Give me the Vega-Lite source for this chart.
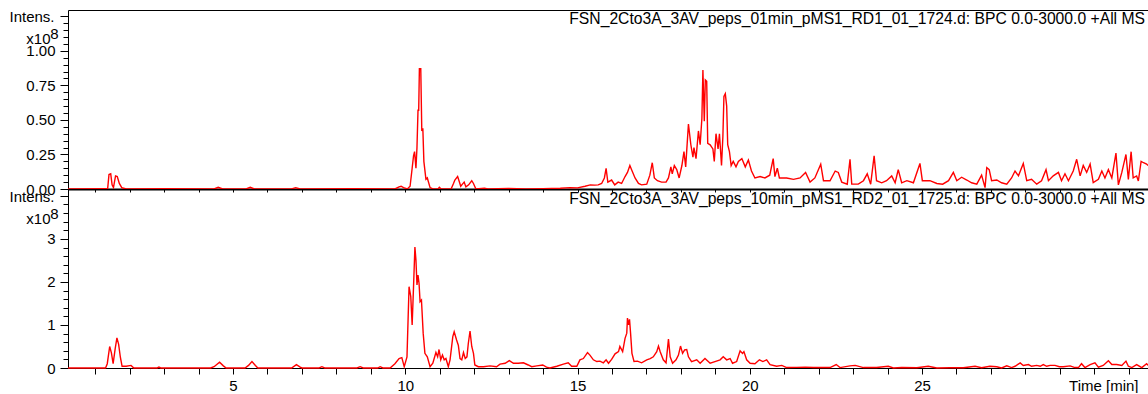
{
  "$schema": "https://vega.github.io/schema/vega-lite/v6.json",
  "autosize": {"type": "pad"},
  "padding": {"left": 9, "top": 9, "right": 0, "bottom": 0},
  "bounds": "flush",
  "spacing": 0,
  "background": "white",
  "config": {
    "view": {"stroke": null},
    "font": "Liberation Sans",
    "axis": {
      "labelFont": "Liberation Sans", "titleFont": "Liberation Sans",
      "labelColor": "black", "titleColor": "black",
      "tickColor": "black", "domainColor": "black",
      "grid": false, "labelFontSize": 15, "titleFontSize": 15,
      "titleFontWeight": "normal", "labelFlush": false, "labelOverlap": false
    },
    "title": {"font": "Liberation Sans", "fontSize": 15.7, "fontWeight": "normal", "color": "black"}
  },
  "datasets": {
    "run01": [
      {"t":0.21,"i":0},{"t":1.30,"i":0.002},{"t":1.36,"i":0},{"t":1.40,"i":0.105},{"t":1.45,"i":0.11},{"t":1.49,"i":0.03},{"t":1.53,"i":0.01},{"t":1.59,"i":0.095},{"t":1.64,"i":0.09},{"t":1.70,"i":0.04},{"t":1.77,"i":0.01},{"t":1.90,"i":0},
      {"t":3.0,"i":0.002},{"t":4.45,"i":0},{"t":4.57,"i":0.012},{"t":4.70,"i":0},{"t":5.38,"i":0},{"t":5.50,"i":0.012},{"t":5.62,"i":0},{"t":6.70,"i":0},{"t":6.82,"i":0.01},{"t":6.95,"i":0},{"t":8.5,"i":0.002},
      {"t":9.70,"i":0},{"t":9.82,"i":0.015},{"t":9.88,"i":0.02},{"t":9.95,"i":0.01},{"t":10.06,"i":0},{"t":10.14,"i":0.02},{"t":10.20,"i":0.15},{"t":10.24,"i":0.24},{"t":10.27,"i":0.27},{"t":10.31,"i":0.15},{"t":10.34,"i":0.30},{"t":10.37,"i":0.57},{"t":10.39,"i":0.57},{"t":10.41,"i":0.87},{"t":10.45,"i":0.87},{"t":10.48,"i":0.42},{"t":10.51,"i":0.44},{"t":10.54,"i":0.20},{"t":10.60,"i":0.07},{"t":10.64,"i":0.08},{"t":10.72,"i":0.01},{"t":10.80,"i":0},
      {"t":10.95,"i":0},{"t":10.99,"i":0.012},{"t":11.04,"i":0},{"t":11.33,"i":0},{"t":11.40,"i":0.04},{"t":11.44,"i":0.065},{"t":11.52,"i":0.09},{"t":11.56,"i":0.06},{"t":11.61,"i":0.02},{"t":11.66,"i":0.035},{"t":11.71,"i":0.05},{"t":11.76,"i":0.015},{"t":11.84,"i":0.03},{"t":11.93,"i":0.06},{"t":11.98,"i":0.04},{"t":12.05,"i":0},
      {"t":12.30,"i":0.005},{"t":12.40,"i":0},{"t":13.0,"i":0.004},{"t":13.5,"i":0},{"t":14.0,"i":0.003},{"t":14.5,"i":0.005},{"t":14.78,"i":0.01},{"t":15.0,"i":0.008},{"t":15.22,"i":0.02},{"t":15.37,"i":0.03},{"t":15.5,"i":0.028},{"t":15.6,"i":0.03},{"t":15.7,"i":0.04},{"t":15.78,"i":0.08},{"t":15.83,"i":0.15},{"t":15.88,"i":0.05},{"t":15.99,"i":0.065},{"t":16.08,"i":0.03},{"t":16.18,"i":0.05},{"t":16.28,"i":0.04},{"t":16.38,"i":0.09},{"t":16.45,"i":0.12},{"t":16.52,"i":0.17},{"t":16.57,"i":0.14},{"t":16.67,"i":0.08},{"t":16.77,"i":0.04},{"t":16.86,"i":0.03},
      {"t":17.01,"i":0.035},{"t":17.10,"i":0.10},{"t":17.17,"i":0.19},{"t":17.23,"i":0.08},{"t":17.32,"i":0.06},{"t":17.44,"i":0.05},{"t":17.57,"i":0.05},{"t":17.64,"i":0.08},{"t":17.71,"i":0.16},{"t":17.75,"i":0.11},{"t":17.81,"i":0.17},{"t":17.88,"i":0.14},{"t":17.95,"i":0.08},{"t":18.03,"i":0.17},{"t":18.09,"i":0.27},{"t":18.14,"i":0.16},{"t":18.22,"i":0.47},{"t":18.29,"i":0.32},{"t":18.35,"i":0.23},{"t":18.38,"i":0.30},{"t":18.44,"i":0.22},{"t":18.51,"i":0.42},{"t":18.56,"i":0.32},{"t":18.61,"i":0.51},{"t":18.64,"i":0.86},{"t":18.68,"i":0.49},{"t":18.71,"i":0.79},{"t":18.75,"i":0.78},{"t":18.78,"i":0.33},{"t":18.85,"i":0.32},{"t":18.93,"i":0.29},{"t":18.97,"i":0.20},
      {"t":19.02,"i":0.40},{"t":19.08,"i":0.29},{"t":19.12,"i":0.40},{"t":19.18,"i":0.17},{"t":19.22,"i":0.38},{"t":19.25,"i":0.67},{"t":19.29,"i":0.69},{"t":19.33,"i":0.60},{"t":19.36,"i":0.32},{"t":19.41,"i":0.27},{"t":19.46,"i":0.17},{"t":19.52,"i":0.20},{"t":19.60,"i":0.16},{"t":19.67,"i":0.20},{"t":19.77,"i":0.22},{"t":19.87,"i":0.16},{"t":19.96,"i":0.21},{"t":20.05,"i":0.13},{"t":20.15,"i":0.08},{"t":20.30,"i":0.09},{"t":20.44,"i":0.08},{"t":20.58,"i":0.10},{"t":20.68,"i":0.22},{"t":20.73,"i":0.09},{"t":20.80,"i":0.15},{"t":20.86,"i":0.08},
      {"t":21.07,"i":0.08},{"t":21.27,"i":0.07},{"t":21.46,"i":0.08},{"t":21.62,"i":0.12},{"t":21.75,"i":0.05},{"t":21.89,"i":0.08},{"t":22.06,"i":0.18},{"t":22.14,"i":0.06},{"t":22.33,"i":0.06},{"t":22.48,"i":0.13},{"t":22.57,"i":0.12},{"t":22.67,"i":0.05},{"t":22.83,"i":0.035},{"t":22.91,"i":0.215},{"t":22.96,"i":0.035},
      {"t":23.15,"i":0.035},{"t":23.30,"i":0.06},{"t":23.41,"i":0.11},{"t":23.51,"i":0.035},{"t":23.61,"i":0.24},{"t":23.68,"i":0.06},{"t":23.83,"i":0.045},{"t":23.97,"i":0.06},{"t":24.12,"i":0.095},{"t":24.22,"i":0.045},{"t":24.31,"i":0.14},{"t":24.41,"i":0.045},{"t":24.56,"i":0.06},{"t":24.75,"i":0.045},{"t":24.94,"i":0.185},{"t":25.01,"i":0.06},{"t":25.23,"i":0.06},{"t":25.43,"i":0.04},{"t":25.60,"i":0.035},{"t":25.77,"i":0.06},{"t":25.91,"i":0.12},{"t":26.01,"i":0.06},{"t":26.15,"i":0.085},{"t":26.30,"i":0.065},{"t":26.44,"i":0.045},{"t":26.59,"i":0.035},{"t":26.73,"i":0.10},{"t":26.83,"i":0.01},{"t":26.88,"i":0.155},{"t":26.95,"i":0.14},
      {"t":27.02,"i":0.06},{"t":27.17,"i":0.065},{"t":27.31,"i":0.045},{"t":27.46,"i":0.035},{"t":27.60,"i":0.08},{"t":27.70,"i":0.13},{"t":27.80,"i":0.095},{"t":27.94,"i":0.185},{"t":28.04,"i":0.06},{"t":28.18,"i":0.07},{"t":28.33,"i":0.035},{"t":28.47,"i":0.06},{"t":28.60,"i":0.14},{"t":28.67,"i":0.06},{"t":28.81,"i":0.095},{"t":28.96,"i":0.12},{"t":29.05,"i":0.06},{"t":29.15,"i":0.11},{"t":29.25,"i":0.06},{"t":29.39,"i":0.13},{"t":29.49,"i":0.215},{"t":29.59,"i":0.095},{"t":29.68,"i":0.17},{"t":29.78,"i":0.12},{"t":29.88,"i":0.18},{"t":29.97,"i":0.046},
      {"t":30.12,"i":0.07},{"t":30.22,"i":0.13},{"t":30.31,"i":0.08},{"t":30.41,"i":0.14},{"t":30.51,"i":0.08},{"t":30.63,"i":0.26},{"t":30.70,"i":0.03},{"t":30.80,"i":0.12},{"t":30.92,"i":0.25},{"t":30.99,"i":0.07},{"t":31.07,"i":0.27},{"t":31.13,"i":0.08},{"t":31.23,"i":0.094},{"t":31.28,"i":0.058},{"t":31.36,"i":0.20},{"t":31.43,"i":0.19},{"t":31.52,"i":0.18},{"t":31.56,"i":0.17}
    ],
    "run10": [
      {"t":0.21,"i":0},{"t":1.30,"i":0},{"t":1.35,"i":0.1},{"t":1.42,"i":0.5},{"t":1.47,"i":0.35},{"t":1.52,"i":0.1},{"t":1.58,"i":0.45},{"t":1.63,"i":0.70},{"t":1.68,"i":0.55},{"t":1.73,"i":0.25},{"t":1.78,"i":0.04},{"t":1.90,"i":0.04},{"t":2.04,"i":0.06},{"t":2.12,"i":0},
      {"t":2.80,"i":0},{"t":2.85,"i":0.02},{"t":2.90,"i":0},{"t":4.35,"i":0},{"t":4.45,"i":0.03},{"t":4.61,"i":0.135},{"t":4.72,"i":0.05},{"t":4.80,"i":0},{"t":5.35,"i":0},{"t":5.45,"i":0.06},{"t":5.55,"i":0.15},{"t":5.65,"i":0.06},{"t":5.72,"i":0},{"t":6.70,"i":0},{"t":6.84,"i":0.08},{"t":6.95,"i":0.02},{"t":7.00,"i":0},{"t":7.50,"i":0},{"t":7.58,"i":0.03},{"t":7.66,"i":0},{"t":8.60,"i":0},{"t":8.69,"i":0.03},{"t":8.78,"i":0},{"t":9.20,"i":0},{"t":9.27,"i":0.03},{"t":9.35,"i":0},
      {"t":9.56,"i":0},{"t":9.70,"i":0.1},{"t":9.82,"i":0.22},{"t":9.90,"i":0.24},{"t":9.97,"i":0.03},{"t":10.05,"i":0.26},{"t":10.11,"i":1.89},{"t":10.16,"i":1.66},{"t":10.20,"i":1.0},{"t":10.24,"i":1.89},{"t":10.28,"i":2.81},{"t":10.31,"i":2.51},{"t":10.34,"i":1.93},{"t":10.37,"i":2.16},{"t":10.40,"i":1.97},{"t":10.43,"i":1.54},{"t":10.47,"i":1.58},{"t":10.52,"i":0.81},{"t":10.57,"i":0.34},{"t":10.64,"i":0.26},{"t":10.72,"i":0.03},{"t":10.80,"i":0.11},{"t":10.89,"i":0.36},{"t":10.94,"i":0.26},{"t":10.98,"i":0.43},{"t":11.03,"i":0.19},{"t":11.08,"i":0.30},{"t":11.13,"i":0.19},{"t":11.18,"i":0.22},{"t":11.25,"i":0.03},{"t":11.30,"i":0.19},{"t":11.38,"i":0.73},{"t":11.42,"i":0.84},{"t":11.49,"i":0.65},{"t":11.54,"i":0.53},{"t":11.59,"i":0.22},{"t":11.64,"i":0.19},{"t":11.69,"i":0.36},{"t":11.74,"i":0.22},{"t":11.79,"i":0.26},{"t":11.83,"i":0.57},{"t":11.88,"i":0.86},{"t":11.93,"i":0.50},{"t":11.98,"i":0.34},{"t":12.02,"i":0.07},
      {"t":12.12,"i":0.03},{"t":12.27,"i":0.03},{"t":12.46,"i":0.05},{"t":12.65,"i":0.03},{"t":12.75,"i":0.09},{"t":12.90,"i":0.11},{"t":13.02,"i":0.17},{"t":13.14,"i":0.11},{"t":13.28,"i":0.11},{"t":13.43,"i":0.12},{"t":13.57,"i":0.07},{"t":13.67,"i":0.03},{"t":13.82,"i":0.05},{"t":13.99,"i":0.07},{"t":14.10,"i":0.02},{"t":14.20,"i":0},
      {"t":14.40,"i":0.04},{"t":14.59,"i":0.09},{"t":14.73,"i":0.12},{"t":14.83,"i":0.04},{"t":14.98,"i":0.04},{"t":15.07,"i":0.19},{"t":15.17,"i":0.22},{"t":15.29,"i":0.36},{"t":15.36,"i":0.30},{"t":15.46,"i":0.19},{"t":15.56,"i":0.15},{"t":15.65,"i":0.16},{"t":15.75,"i":0.12},{"t":15.83,"i":0.19},{"t":15.90,"i":0.11},{"t":15.99,"i":0.20},{"t":16.09,"i":0.33},{"t":16.19,"i":0.38},{"t":16.23,"i":0.50},{"t":16.31,"i":0.38},{"t":16.38,"i":0.69},{"t":16.43,"i":0.81},{"t":16.45,"i":1.16},{"t":16.48,"i":1.00},{"t":16.51,"i":1.13},{"t":16.54,"i":0.81},{"t":16.58,"i":0.34},{"t":16.64,"i":0.15},{"t":16.74,"i":0.16},{"t":16.86,"i":0.12},
      {"t":17.01,"i":0.19},{"t":17.11,"i":0.22},{"t":17.20,"i":0.26},{"t":17.30,"i":0.38},{"t":17.35,"i":0.51},{"t":17.40,"i":0.38},{"t":17.49,"i":0.19},{"t":17.57,"i":0.12},{"t":17.64,"i":0.67},{"t":17.69,"i":0.26},{"t":17.76,"i":0.11},{"t":17.86,"i":0.19},{"t":17.93,"i":0.30},{"t":17.99,"i":0.51},{"t":18.05,"i":0.34},{"t":18.11,"i":0.42},{"t":18.17,"i":0.43},{"t":18.22,"i":0.26},{"t":18.31,"i":0.15},{"t":18.46,"i":0.19},{"t":18.56,"i":0.11},{"t":18.70,"i":0.22},{"t":18.85,"i":0.11},{"t":18.99,"i":0.15},
      {"t":19.14,"i":0.19},{"t":19.23,"i":0.26},{"t":19.33,"i":0.19},{"t":19.43,"i":0.22},{"t":19.50,"i":0.11},{"t":19.62,"i":0.15},{"t":19.72,"i":0.40},{"t":19.79,"i":0.34},{"t":19.83,"i":0.38},{"t":19.91,"i":0.19},{"t":20.01,"i":0.11},{"t":20.15,"i":0.10},{"t":20.28,"i":0.19},{"t":20.38,"i":0.15},{"t":20.49,"i":0.19},{"t":20.59,"i":0.08},{"t":20.78,"i":0.04},{"t":20.93,"i":0.06},{"t":21.07,"i":0.01},{"t":21.36,"i":0.015},{"t":21.61,"i":0.02},{"t":21.85,"i":0.01},{"t":22.04,"i":0.015},{"t":22.33,"i":0.01},{"t":22.51,"i":0.08},{"t":22.62,"i":0.01},{"t":22.91,"i":0.05},
      {"t":23.06,"i":0.06},{"t":23.30,"i":0.01},{"t":23.68,"i":0.01},{"t":24.02,"i":0.04},{"t":24.17,"i":0},{"t":24.41,"i":0.01},{"t":24.85,"i":0.005},{"t":25.18,"i":0.04},{"t":25.43,"i":0},{"t":25.81,"i":0.005},{"t":26.20,"i":0.005},{"t":26.54,"i":0.04},{"t":26.73,"i":0.005},{"t":26.97,"i":0.04},{"t":27.17,"i":0.03},{"t":27.31,"i":0},{"t":27.46,"i":0.05},{"t":27.60,"i":0.01},{"t":27.70,"i":0.04},{"t":27.85,"i":0.12},{"t":27.94,"i":0.06},{"t":28.09,"i":0.08},{"t":28.18,"i":0.04},{"t":28.33,"i":0.06},{"t":28.43,"i":0.04},{"t":28.52,"i":0.08},{"t":28.62,"i":0.04},{"t":28.72,"i":0.06},{"t":28.86,"i":0.06},{"t":28.99,"i":0.03},
      {"t":29.10,"i":0.03},{"t":29.30,"i":0.05},{"t":29.44,"i":0.01},{"t":29.54,"i":0.01},{"t":29.63,"i":0.10},{"t":29.73,"i":0.01},{"t":29.88,"i":0.08},{"t":30.02,"i":0.12},{"t":30.12,"i":0.02},{"t":30.26,"i":0.06},{"t":30.41,"i":0.17},{"t":30.51,"i":0.08},{"t":30.65,"i":0.08},{"t":30.80,"i":0.06},{"t":30.92,"i":0.16},{"t":30.99,"i":0.04},{"t":31.09,"i":0.01},{"t":31.23,"i":0.08},{"t":31.38,"i":0.01},{"t":31.52,"i":0.10},{"t":31.56,"i":0.06}
    ]
  },
  "vconcat": [
    {
      "width": 1080,
      "height": 179,
      "title": {"text": "FSN_2Cto3A_3AV_peps_01min_pMS1_RD1_01_1724.d: BPC 0.0-3000.0 +All MS", "anchor": "end", "frame": "group", "offset": -18.5, "dx": -3},
      "data": {"name": "run01"},
      "layer": [
        {
          "mark": {"type": "line", "color": "#ff0000", "strokeWidth": 1.4},
          "encoding": {
            "x": {"field": "t", "type": "quantitative",
                  "scale": {"domain": [0.21, 31.56], "nice": false, "zero": false},
                  "axis": {"orient": "bottom", "values": [1,2,3,4,5,6,7,8,9,10,11,12,13,14,15,16,17,18,19,20,21,22,23,24,25,26,27,28,29,30,31], "labels": false, "tickSize": 3, "domainWidth": 2, "title": null}},
            "y": {"field": "i", "type": "quantitative",
                  "scale": {"domain": [0, 1.295], "nice": false},
                  "axis": {"values": [0, 0.25, 0.5, 0.75, 1.0, 1.25], "format": ".2f", "labelExpr": "datum.value > 1.2 ? '' : datum.label",
                           "tickSize": 8, "labelPadding": 5,
                           "title": "Intens.", "titleAngle": 0, "titleAlign": "left", "titleBaseline": "middle", "titleX": -59, "titleY": 6}}
          }
        },
        {
          "mark": {"type": "line", "strokeOpacity": 0},
          "encoding": {
            "x": {"field": "t", "type": "quantitative",
                  "axis": {"orient": "top", "ticks": false, "labels": false, "title": null}},
            "y": {"field": "i", "type": "quantitative",
                  "axis": {"values": [0,0.05,0.1,0.15,0.2,0.25,0.3,0.35,0.4,0.45,0.5,0.55,0.6,0.65,0.7,0.75,0.8,0.85,0.9,0.95,1.0,1.05,1.1,1.15,1.2,1.25],
                           "orient": "left", "labels": false, "domain": false, "tickSize": 5,
                           "title": "x10", "titleAngle": 0, "titleAlign": "right", "titleBaseline": "middle", "titleX": -18, "titleY": 28}}
          }
        },
        {
          "mark": {"type": "line", "strokeOpacity": 0},
          "encoding": {
            "x": {"field": "t", "type": "quantitative", "axis": null},
            "y": {"field": "i", "type": "quantitative",
                  "axis": {"orient": "left", "labels": false, "domain": false, "ticks": false,
                           "title": "8", "titleAngle": 0, "titleAlign": "right", "titleBaseline": "middle", "titleX": -10, "titleY": 23}}
          }
        }
      ],
      "resolve": {"axis": {"x": "independent", "y": "independent"}}
    },
    {
      "width": 1080,
      "height": 179,
      "title": {"text": "FSN_2Cto3A_3AV_peps_10min_pMS1_RD2_01_1725.d: BPC 0.0-3000.0 +All MS", "anchor": "end", "frame": "group", "offset": -18.5, "dx": -3},
      "data": {"name": "run10"},
      "layer": [
        {
          "mark": {"type": "line", "color": "#ff0000", "strokeWidth": 1.4},
          "encoding": {
            "x": {"field": "t", "type": "quantitative",
                  "scale": {"domain": [0.21, 31.56], "nice": false, "zero": false},
                  "axis": {"orient": "bottom", "values": [1,2,3,4,5,6,7,8,9,10,11,12,13,14,15,16,17,18,19,20,21,22,23,24,25,26,27,28,29,30,31],
                           "labelExpr": "datum.value % 5 == 0 && datum.value < 30 ? datum.label : ''",
                           "tickSize": 6, "labelPadding": 4,
                           "title": "Time [min]", "titleAlign": "right", "titleBaseline": "middle", "titleX": 1070, "titleY": 17}},
            "y": {"field": "i", "type": "quantitative",
                  "scale": {"domain": [0, 4.16], "nice": false},
                  "axis": {"values": [0, 1, 2, 3, 4], "labelExpr": "datum.value > 3.5 ? '' : datum.label",
                           "tickSize": 8, "labelPadding": 5,
                           "title": "Intens.", "titleAngle": 0, "titleAlign": "left", "titleBaseline": "middle", "titleX": -59, "titleY": 7}}
          }
        },
        {
          "mark": {"type": "line", "strokeOpacity": 0},
          "encoding": {
            "x": {"field": "t", "type": "quantitative",
                  "axis": {"orient": "top", "ticks": false, "labels": false, "title": null}},
            "y": {"field": "i", "type": "quantitative",
                  "axis": {"values": [0,0.2,0.4,0.6,0.8,1.0,1.2,1.4,1.6,1.8,2.0,2.2,2.4,2.6,2.8,3.0,3.2,3.4,3.6,3.8,4.0],
                           "orient": "left", "labels": false, "domain": false, "tickSize": 5,
                           "title": "x10", "titleAngle": 0, "titleAlign": "right", "titleBaseline": "middle", "titleX": -18, "titleY": 29}}
          }
        },
        {
          "mark": {"type": "line", "strokeOpacity": 0},
          "encoding": {
            "x": {"field": "t", "type": "quantitative", "axis": null},
            "y": {"field": "i", "type": "quantitative",
                  "axis": {"orient": "left", "labels": false, "domain": false, "ticks": false,
                           "title": "8", "titleAngle": 0, "titleAlign": "right", "titleBaseline": "middle", "titleX": -10, "titleY": 24}}
          }
        }
      ],
      "resolve": {"axis": {"x": "independent", "y": "independent"}}
    }
  ]
}
